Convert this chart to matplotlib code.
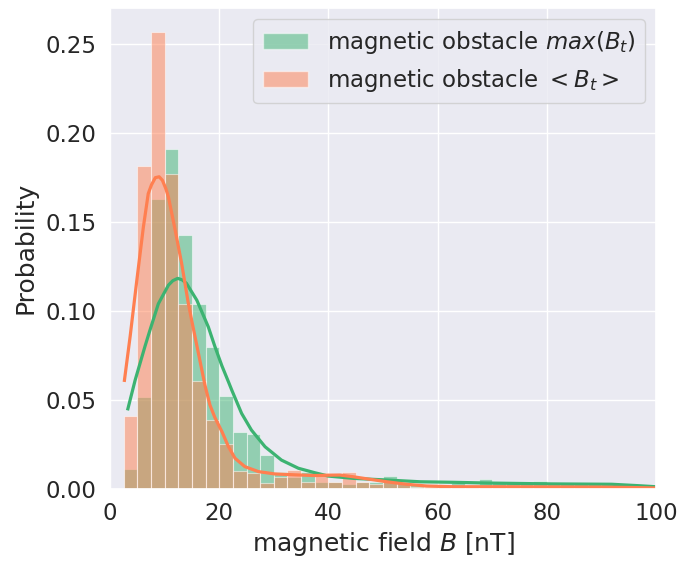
import matplotlib
matplotlib.use("Agg")
import matplotlib.pyplot as plt
import seaborn as sns
from matplotlib.patches import Patch

# ---- data ----
bin_edges = [2.5, 5.0, 7.5, 10.0, 12.5, 15.0, 17.5, 20.0, 22.5, 25.0, 27.5, 30.0,
             32.5, 35.0, 37.5, 40.0, 42.5, 45.0, 47.5, 50.0, 52.5, 55.0, 57.5,
             60.0, 62.5, 65.0, 67.5, 70.0, 72.5, 75.0, 77.5, 80.0, 82.5, 85.0,
             87.5, 90.0, 92.5, 95.0, 97.5, 100.0]

prob_max = [0.011, 0.0513, 0.163, 0.191, 0.143, 0.104, 0.0797, 0.0523, 0.0317,
            0.0307, 0.0191, 0.0095, 0.0067, 0.0095, 0.0038, 0.0038, 0.0024,
            0.0038, 0.0038, 0.0070, 0.0029, 0.0020, 0.0010, 0.0010, 0.0029,
            0.0020, 0.0052, 0.0033, 0.0029, 0.0029, 0.0042, 0.0029, 0.0025,
            0.0025, 0.0025, 0.0025, 0.0010, 0.0010, 0.0010]

prob_mean = [0.0406, 0.1816, 0.257, 0.1769, 0.104, 0.0603, 0.0384, 0.0251,
             0.0097, 0.0088, 0.0032, 0.0067, 0.0104, 0.0038, 0.0085, 0.0038,
             0.0095, 0.0038, 0.0024, 0.0042, 0.0029, 0.0010, 0.0008, 0.0008,
             0.0008, 0.0008, 0.0008, 0.0008, 0.0008, 0.0008, 0.0008, 0.0008,
             0.0008, 0.0008, 0.0008, 0.0006, 0.0006, 0.0004, 0.0004]

kde_max_x = [3.2, 4.6, 6.4, 7.3, 8.85, 10.7, 11.5, 12.4, 13.2, 14.0, 15.9, 18.0,
             19.2, 20.5, 21.7, 22.3, 24.1, 25.9, 28.4, 31.4, 34.5, 37.5, 40.0,
             44.6, 50.7, 56.8, 62.9, 69.0, 80.9, 91.9, 96.8, 100.0]
kde_max_y = [0.044, 0.061, 0.080, 0.089, 0.104, 0.1145, 0.117, 0.1183, 0.1175,
             0.1155, 0.106, 0.091, 0.080, 0.069, 0.060, 0.0554, 0.0423, 0.0329,
             0.0235, 0.016, 0.0114, 0.0089, 0.0070, 0.0057, 0.0048, 0.0038,
             0.0035, 0.0031, 0.0026, 0.0024, 0.0016, 0.0010]

kde_mean_x = [2.6, 3.7, 4.9, 6.1, 7.0, 7.6, 8.3, 9.0, 9.6, 10.2, 10.7, 11.9,
              13.1, 14.3, 15.0, 16.2, 17.4, 18.3, 19.2, 20.5, 21.7, 22.9, 24.7,
              27.2, 30.2, 33.9, 37.5, 40.0, 42.1, 44.6, 47.6, 50.7, 54.3, 58.0,
              62.9, 70.0, 80.0, 90.0, 95.0, 100.0]
kde_mean_y = [0.060, 0.086, 0.117, 0.147, 0.166, 0.171, 0.175, 0.1755, 0.1735,
              0.169, 0.164, 0.146, 0.127, 0.105, 0.094, 0.076, 0.058, 0.047,
              0.040, 0.032, 0.0235, 0.017, 0.0123, 0.0095, 0.0082, 0.0077,
              0.0073, 0.0075, 0.0076, 0.0066, 0.0052, 0.0038, 0.0024, 0.0014,
              0.0010, 0.0010, 0.0009, 0.0008, 0.0006, 0.0003]

label_max = r'magnetic obstacle $max(B_t)$'
label_mean = r'magnetic obstacle $<B_t>$'
xlabel = r'magnetic field $B$ [nT]'
ylabel = 'Probability'

# ---- style ----
sns.set_theme(style='darkgrid')
plt.rcParams['font.family'] = ['DejaVu Sans']

green = '#3cb371'
orange = '#ff7f50'

fig = plt.figure(figsize=(6.8, 5.61), dpi=100)
ax = fig.add_axes([0.1618, 0.1292, 0.8029, 0.8565])

lefts = bin_edges[:-1]
widths = [b - a for a, b in zip(bin_edges[:-1], bin_edges[1:])]

ax.bar(lefts, prob_max, width=widths, align='edge', color=green, alpha=0.5,
       edgecolor='white', linewidth=0.8)
ax.bar(lefts, prob_mean, width=widths, align='edge', color=orange, alpha=0.5,
       edgecolor='white', linewidth=0.8)

ax.plot(kde_max_x, kde_max_y, color=green, lw=2.3, solid_capstyle='butt')
ax.plot(kde_mean_x, kde_mean_y, color=orange, lw=2.3, solid_capstyle='butt')

ax.set_xlim(0, 100)
ax.set_ylim(0, 0.2705)
ax.set_xticks([0, 20, 40, 60, 80, 100])
ax.set_yticks([0.0, 0.05, 0.10, 0.15, 0.20, 0.25])
ax.set_yticklabels(['0.00', '0.05', '0.10', '0.15', '0.20', '0.25'])
ax.tick_params(labelsize=16.5, colors='#262626')
ax.set_xlabel(xlabel, fontsize=18, color='#262626', labelpad=4)
ax.set_ylabel(ylabel, fontsize=18, color='#262626', labelpad=6)

handles = [Patch(facecolor=green, alpha=0.5, edgecolor='white'),
           Patch(facecolor=orange, alpha=0.5, edgecolor='white')]
ax.legend(handles, [label_max, label_mean], loc='upper right', fontsize=16.5)

fig.savefig('out.png', dpi=100)
